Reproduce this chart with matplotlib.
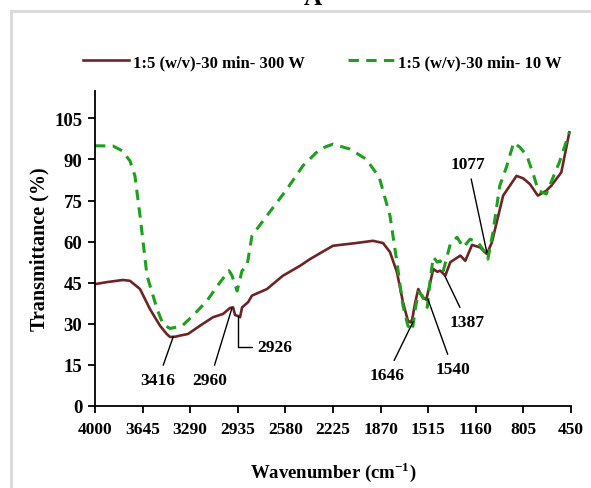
import matplotlib
matplotlib.use('Agg')
import matplotlib.pyplot as plt
from matplotlib.lines import Line2D

plt.rcParams['font.family'] = 'Liberation Serif'
plt.rcParams['font.weight'] = 'bold'
plt.rcParams['mathtext.fontset'] = 'custom'
plt.rcParams['mathtext.rm'] = 'Liberation Serif'
plt.rcParams['mathtext.bf'] = 'Liberation Serif:bold'

# spettro 300 W (linea marrone)
wn_300 = [4000, 3900, 3791, 3739, 3664, 3590, 3515, 3465, 3441, 3400, 3366, 3306, 3217, 3120,
          3045, 2993, 2970, 2955, 2930, 2918, 2903, 2858, 2829, 2717, 2600, 2470, 2397, 2225,
          2050, 1927, 1852, 1800, 1748, 1703, 1666, 1646, 1634, 1611, 1589, 1559, 1529, 1499,
          1477, 1447, 1425, 1387, 1350, 1275, 1238, 1188, 1128, 1077, 1040, 956, 856, 806,
          756, 697, 634, 597, 522, 462]
t_300 = [44.5, 45.3, 46.0, 45.7, 42.7, 35.4, 29.3, 26.3, 25.2, 25.3, 25.7, 26.3, 29.3, 32.4,
         33.6, 35.8, 36.0, 33.2, 32.8, 32.4, 36.0, 37.9, 40.3, 42.7, 47.5, 51.2, 53.6, 58.5,
         59.5, 60.3, 59.5, 56.2, 48.9, 37.9, 31.1, 30.5, 31.7, 37.9, 42.7, 39.8, 38.8, 45.2,
         50.0, 49.0, 49.4, 47.6, 52.5, 54.9, 53.0, 58.8, 57.9, 55.5, 59.7, 76.8, 84.0, 83.1,
         81.0, 76.8, 78.6, 80.4, 85.3, 99.9]

# spettro 10 W (linea verde tratteggiata)
wn_10 = [4000, 3865, 3798, 3739, 3702, 3664, 3612, 3537, 3493, 3441, 3351, 3269, 3165, 3068,
         3000, 2978, 2940, 2903, 2866, 2829, 2717, 2568, 2449, 2322, 2225, 2099, 1977, 1880,
         1800, 1748, 1703, 1666, 1634, 1611, 1589, 1559, 1522, 1499, 1477, 1447, 1425, 1402,
         1350, 1300, 1253, 1203, 1143, 1092, 1070, 1032, 981, 932, 877, 830, 779, 727,
         694, 634, 589, 537, 462]
t_10 = [95.0, 94.9, 93.2, 89.5, 84.0, 69.5, 47.6, 35.4, 29.9, 28.3, 29.2, 33.0, 38.4, 45.1,
        49.4, 47.6, 42.0, 49.4, 51.2, 62.2, 69.5, 79.2, 87.7, 93.8, 95.6, 93.8, 90.1, 83.5,
        69.5, 52.5, 36.6, 29.3, 27.5, 35.4, 41.6, 40.3, 36.0, 46.4, 54.4, 52.5, 53.0, 49.4,
        59.1, 61.6, 57.9, 60.9, 59.7, 56.1, 53.6, 63.4, 80.4, 87.1, 96.2, 94.4, 91.4, 84.0,
        78.6, 77.4, 82.8, 88.9, 99.9]

x_ticks = [4000, 3645, 3290, 2935, 2580, 2225, 1870, 1515, 1160, 805, 450]
y_ticks = [0, 15, 30, 45, 60, 75, 90, 105]

# etichette dei picchi
picchi = ['3416', '2960', '2926', '1646', '1540', '1387', '1077']
picchi_xy = [(3416, 25.3), (2978, 35.8), (2935, 33.0), (1628, 30.7), (1517, 39.0), (1390, 47.4), (1077, 56.0)]
picchi_testo = [(3530, 9.5), (3142, 9.5), (2790, 21.5), (1822, 11.3), (1330, 13.5), (1226, 30.7), (1218, 88.3)]

fig = plt.figure(figsize=(5.91, 4.89), dpi=100, facecolor='white')
ax = fig.add_axes([0.1607, 0.1677, 0.8054, 0.6442])

ax.plot(wn_300, t_300, color='#6e2424', lw=1.9, label='1:5 (w/v)-30 min- 300 W')
ax.plot(wn_10, t_10, color='#1f9e1f', lw=2.2, dashes=(3.4, 2.4), label='1:5 (w/v)-30 min- 10 W')

ax.set_xlim(4000, 450)
ax.set_ylim(0, 115)
ax.set_xticks(x_ticks)
ax.set_yticks(y_ticks)
ax.tick_params(axis='x', direction='out', length=5, width=1.3, labelsize=12.5, pad=6)
ax.tick_params(axis='y', direction='out', length=5, width=1.3, labelsize=13.5, pad=4)
ax.spines['top'].set_visible(False)
ax.spines['right'].set_visible(False)
ax.spines['left'].set_linewidth(1.3)
ax.spines['bottom'].set_linewidth(1.3)

ax.set_ylabel('Transmittance (%)', fontsize=14.5, fontweight='bold')
ax.yaxis.set_label_coords(-0.095, 0.5)
ax.set_xlabel(r'Wavenumber (cm$^{\mathbf{-1}}$)', fontsize=13.5, fontweight='bold')
ax.xaxis.set_label_coords(0.5, -0.168)

for i in range(len(picchi)):
    if picchi[i] == '2926':
        ax.annotate(picchi[i], xy=picchi_xy[i], xytext=picchi_testo[i], ha='left', va='center',
                    fontsize=12.5, fontweight='bold',
                    arrowprops=dict(arrowstyle='-', color='black', lw=1,
                                    connectionstyle='angle,angleA=0,angleB=90,rad=0',
                                    shrinkA=2, shrinkB=0))
    else:
        ax.annotate(picchi[i], xy=picchi_xy[i], xytext=picchi_testo[i], ha='center', va='center',
                    fontsize=12.5, fontweight='bold',
                    arrowprops=dict(arrowstyle='-', color='black', lw=1, shrinkA=3, shrinkB=0))

fig.legend(loc='center', bbox_to_anchor=(0.545, 0.871), ncol=2, frameon=False,
           fontsize=12, handlelength=2.8, handletextpad=0.2, columnspacing=2.6)

# cornice grigia dell'area del grafico
fig.add_artist(Line2D([0.018, 0.018], [0, 0.975], color='#d9d9d9', lw=2, transform=fig.transFigure))
fig.add_artist(Line2D([0.018, 1.0], [0.975, 0.975], color='#d9d9d9', lw=2, transform=fig.transFigure))

fig.text(0.53, 0.99, 'A', ha='center', va='baseline', fontsize=18, fontweight='bold')

fig.savefig('out.png', dpi=100)
